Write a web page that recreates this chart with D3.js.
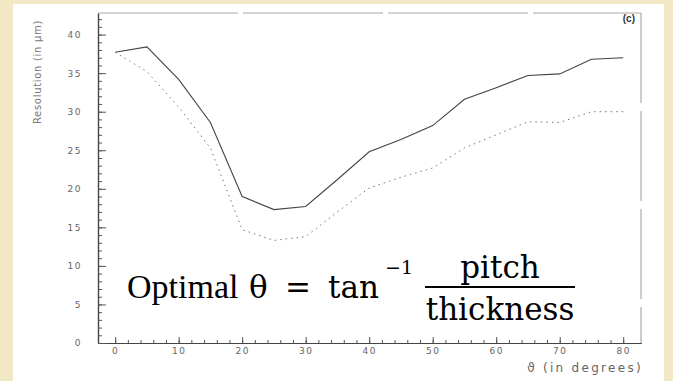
<!DOCTYPE html>
<html>
<head>
<meta charset="utf-8">
<script src="https://cdn.jsdelivr.net/npm/d3@7"></script>
<style>
  body { margin: 0; background: #f3e8c6; }
  svg { display: block; }
  .tick text { font-family: "DejaVu Sans", sans-serif; fill: #666; }
</style>
</head>
<body>
<svg id="chart" width="673" height="381"></svg>
<script>
// angle in degrees
var angles = [0, 5, 10, 15, 20, 25, 30, 35, 40, 45, 50, 55, 60, 65, 70, 75, 80];
// resolution in micrometres, solid curve
var resSolid = [37.7, 38.4, 34.2, 28.6, 19.0, 17.3, 17.7, 21.2, 24.8, 26.4, 28.2, 31.6, 33.1, 34.7, 34.9, 36.8, 37.0];
// dotted curve
var resDotted = [37.7, 35.2, 30.6, 25.3, 14.7, 13.3, 13.8, 17.0, 20.1, 21.5, 22.7, 25.3, 27.0, 28.7, 28.6, 30.0, 30.0];
var xTicks = [0, 10, 20, 30, 40, 50, 60, 70, 80];
var yTicks = [0, 5, 10, 15, 20, 25, 30, 35, 40];

var svg = d3.select("#chart");

// cream page + white slide panel
svg.append("rect")
  .attr("x", 13).attr("y", 4)
  .attr("width", 651).attr("height", 377)
  .attr("fill", "#fff");

var x = d3.scaleLinear().domain([-2.7, 82.8]).range([98, 641]);
var y = d3.scaleLinear().domain([0, 42.8]).range([343, 13]);

// minor ticks
svg.append("g").attr("transform", "translate(0,343)")
  .call(d3.axisBottom(x).tickValues(d3.range(0, 82, 2)).tickSizeInner(-3).tickSizeOuter(0).tickFormat(""));
svg.append("g").attr("transform", "translate(98,0)")
  .call(d3.axisLeft(y).tickValues(d3.range(0, 43, 1)).tickSizeInner(-4).tickSizeOuter(0).tickFormat(""));

var gx = svg.append("g").attr("transform", "translate(0,343)")
  .call(d3.axisBottom(x).tickValues(xTicks).tickSizeInner(-6).tickSizeOuter(0).tickPadding(2));
var gy = svg.append("g").attr("transform", "translate(98,0)")
  .call(d3.axisLeft(y).tickValues(yTicks).tickSizeInner(-8).tickSizeOuter(0).tickPadding(16));

svg.selectAll(".domain").attr("stroke", "#444").attr("stroke-width", 1.2);
svg.selectAll(".tick line").attr("stroke", "#555");
gx.selectAll("text").attr("font-size", 9).attr("letter-spacing", 1.5).attr("dy", "1.0em");
gy.selectAll("text").attr("font-size", 9).attr("letter-spacing", 1.5);

// top and right frame (broken scanned lines)
svg.append("line")
  .attr("x1", 98).attr("x2", 641).attr("y1", 13).attr("y2", 13)
  .attr("stroke", "#aaa").attr("stroke-dasharray", "140,5");
svg.append("line")
  .attr("x1", 641).attr("x2", 641).attr("y1", 13).attr("y2", 343)
  .attr("stroke", "#999").attr("stroke-dasharray", "90,8");

var line = d3.line()
  .x(function(d, i) { return x(angles[i]); })
  .y(function(d) { return y(d); });

svg.append("path")
  .datum(resSolid)
  .attr("d", line)
  .attr("fill", "none")
  .attr("stroke", "#444")
  .attr("stroke-width", 1.1);

svg.append("path")
  .datum(resDotted)
  .attr("d", line)
  .attr("fill", "none")
  .attr("stroke", "#777")
  .attr("stroke-width", 1)
  .attr("stroke-dasharray", "1.5,4");

// labels
svg.append("text")
  .attr("transform", "translate(41,72) rotate(-90)")
  .attr("text-anchor", "middle")
  .attr("font-family", "DejaVu Sans, sans-serif")
  .attr("font-size", 10)
  .attr("letter-spacing", 0.7)
  .attr("fill", "#777")
  .text("Resolution (in \u03bcm)");

svg.append("text")
  .attr("x", 643).attr("y", 372)
  .attr("text-anchor", "end")
  .attr("font-family", "DejaVu Sans, sans-serif")
  .attr("font-size", 12)
  .attr("letter-spacing", 2.3)
  .attr("fill", "#666")
  .text("\u03d1 (in degrees)");

svg.append("text")
  .attr("x", 635).attr("y", 22)
  .attr("text-anchor", "end")
  .attr("font-family", "Liberation Sans, sans-serif")
  .attr("font-weight", "bold")
  .attr("font-size", 10)
  .attr("fill", "#333")
  .text("(c)");

// formula
var f = svg.append("g").attr("fill", "#000");
var mathFont = "DejaVu Serif, serif";
f.append("text")
  .attr("x", 127).attr("y", 298)
  .attr("font-family", "Liberation Serif, serif")
  .attr("font-size", 34)
  .text("Optimal");
f.append("text")
  .attr("x", 249).attr("y", 298)
  .attr("font-family", mathFont).attr("font-size", 31)
  .text("\u03b8");
f.append("text")
  .attr("x", 285).attr("y", 298)
  .attr("font-family", mathFont).attr("font-size", 31)
  .text("=");
f.append("text")
  .attr("x", 328).attr("y", 298)
  .attr("font-family", mathFont).attr("font-size", 31)
  .text("tan");
f.append("text")
  .attr("x", 385).attr("y", 274)
  .attr("font-family", mathFont).attr("font-size", 19)
  .text("\u22121");
f.append("text")
  .attr("x", 500).attr("y", 278)
  .attr("text-anchor", "middle")
  .attr("font-family", mathFont).attr("font-size", 31)
  .text("pitch");
f.append("line")
  .attr("x1", 425).attr("x2", 575).attr("y1", 287).attr("y2", 287)
  .attr("stroke", "#000").attr("stroke-width", 1.8);
f.append("text")
  .attr("x", 500).attr("y", 320)
  .attr("text-anchor", "middle")
  .attr("font-family", mathFont).attr("font-size", 31)
  .text("thickness");
</script>
</body>
</html>
